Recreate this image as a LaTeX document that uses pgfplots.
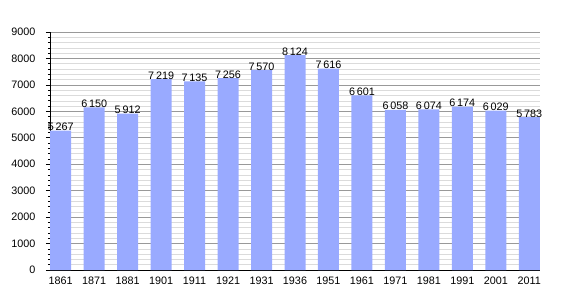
\documentclass[border=0pt]{standalone}
\usepackage{pgfplots}
\pgfplotsset{compat=1.18}
\usepackage{fontspec}
\setmainfont{Liberation Sans}
\definecolor{barblue}{RGB}{153,170,255}
\begin{document}
\begin{tikzpicture}[x=1pt,y=1pt]
\useasboundingbox (0,0) rectangle (570,300);
\begin{axis}[
  at={(50pt,30pt)}, anchor=south west,
  scale only axis, width=490pt, height=238pt,
  xmin=-0.32, xmax=14.32, ymin=0, ymax=9000,
  axis x line*=bottom, axis y line*=left,
  axis line style={black, line width=0.8pt},
  xtick={0,...,14},
  xticklabels={1861,1871,1881,1901,1911,1921,1931,1936,1951,1961,1971,1981,1991,2001,2011},
  x tick style={draw=none},
  ytick={0,1000,...,9000},
  minor y tick num=4,
  ymajorgrids, yminorgrids,
  major grid style={draw=black!40, line width=0.6pt},
  minor grid style={draw=black!14, line width=0.5pt},
  tick align=outside,
  major tick length=4pt, minor tick length=2pt,
  y tick style={black, line width=0.6pt},
  tick label style={font=\fontsize{10.8}{11}\selectfont},
  /pgf/number format/assume math mode=true,
  yticklabel style={/pgf/number format/1000 sep={}, xshift=-7pt},
  xticklabel style={yshift=1pt},
  ybar, bar width=21pt,
  nodes near coords={\pgfmathprintnumber[1000 sep={\,},assume math mode=true]{\pgfplotspointmeta}},
  every node near coord/.append style={font=\fontsize{10.8}{11}\selectfont, black, inner sep=1pt, yshift=-1.5pt},
  clip=false,
]
\addplot[fill=barblue, draw=none] coordinates {
(0,5267) (1,6150) (2,5912) (3,7219) (4,7135) (5,7256) (6,7570) (7,8124)
(8,7616) (9,6601) (10,6058) (11,6074) (12,6174) (13,6029) (14,5783)};
\end{axis}
\end{tikzpicture}
\end{document}
